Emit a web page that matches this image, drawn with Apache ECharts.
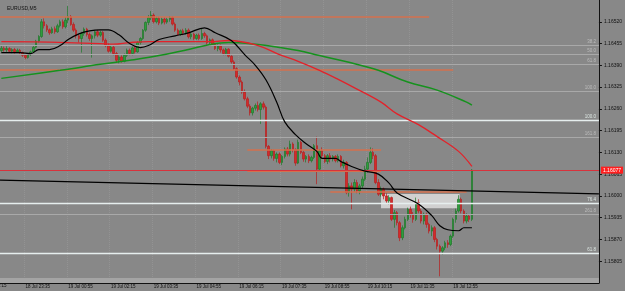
<!DOCTYPE html>
<html><head><meta charset="utf-8">
<script src="https://cdn.jsdelivr.net/npm/echarts@6/dist/echarts.min.js"></script>
<style>html,body{margin:0;padding:0;background:#888888;}#c{width:625px;height:291px;}</style>
</head><body><div id="c"></div>
<script>
const chartTitle = 'EURUSD,M5';
const barCount = 224;                 // bars incl. empty future area
const startDay = 18, startMinutes = 22 * 60 + 50;   // first bar 18 Jul 22:50, M5
const tickLabels = ['18 Jul 23:35','19 Jul 00:55','19 Jul 02:15','19 Jul 03:35','19 Jul 04:55','19 Jul 06:15','19 Jul 07:35','19 Jul 08:55','19 Jul 10:15','19 Jul 11:35','19 Jul 12:55'];
const yMin = 1.15740, yMax = 1.16585, yStep = 0.00065;

// [open, close, low, high]
const candles = [
[1.16434,1.16441,1.16428,1.16449],[1.16441,1.16436,1.16431,1.16446],[1.16436,1.16440,1.16430,1.16447],[1.16440,1.16432,1.16428,1.16444],
[1.16432,1.16437,1.16426,1.16441],[1.16437,1.16430,1.16425,1.16442],[1.16430,1.16435,1.16427,1.16440],[1.16435,1.16428,1.16422,1.16439],
[1.16428,1.16420,1.16415,1.16431],[1.16420,1.16413,1.16408,1.16424],[1.16413,1.16422,1.16410,1.16426],[1.16422,1.16430,1.16418,1.16434],
[1.16430,1.16444,1.16427,1.16448],[1.16444,1.16462,1.16440,1.16466],[1.16462,1.16476,1.16458,1.16480],[1.16476,1.16520,1.16472,1.16528],
[1.16520,1.16508,1.16500,1.16530],[1.16508,1.16496,1.16490,1.16513],[1.16496,1.16487,1.16481,1.16500],[1.16487,1.16499,1.16484,1.16505],
[1.16499,1.16490,1.16484,1.16506],[1.16490,1.16508,1.16487,1.16514],[1.16508,1.16520,1.16503,1.16526],[1.16520,1.16505,1.16499,1.16527],
[1.16505,1.16525,1.16500,1.16534],[1.16525,1.16535,1.16516,1.16567],[1.16535,1.16512,1.16508,1.16540],[1.16512,1.16495,1.16490,1.16518],
[1.16495,1.16478,1.16470,1.16500],[1.16478,1.16470,1.16458,1.16483],[1.16470,1.16485,1.16428,1.16490],[1.16485,1.16498,1.16478,1.16503],
[1.16498,1.16482,1.16476,1.16502],[1.16482,1.16470,1.16463,1.16488],[1.16470,1.16478,1.16413,1.16482],[1.16478,1.16490,1.16470,1.16495],
[1.16490,1.16480,1.16474,1.16496],[1.16480,1.16488,1.16475,1.16493],[1.16488,1.16465,1.16460,1.16492],[1.16465,1.16449,1.16444,1.16470],
[1.16449,1.16432,1.16428,1.16455],[1.16432,1.16444,1.16428,1.16450],[1.16444,1.16425,1.16420,1.16448],[1.16425,1.16405,1.16399,1.16430],
[1.16405,1.16415,1.16396,1.16420],[1.16415,1.16402,1.16398,1.16420],[1.16402,1.16420,1.16399,1.16425],[1.16420,1.16435,1.16415,1.16440],
[1.16435,1.16425,1.16420,1.16440],[1.16425,1.16442,1.16420,1.16446],[1.16442,1.16430,1.16425,1.16447],[1.16430,1.16458,1.16428,1.16462],
[1.16458,1.16470,1.16452,1.16474],[1.16470,1.16495,1.16466,1.16498],[1.16495,1.16518,1.16490,1.16521],[1.16518,1.16532,1.16510,1.16540],
[1.16532,1.16540,1.16525,1.16552],[1.16540,1.16520,1.16515,1.16545],[1.16520,1.16530,1.16515,1.16535],[1.16530,1.16516,1.16510,1.16535],
[1.16516,1.16528,1.16512,1.16533],[1.16528,1.16519,1.16512,1.16533],[1.16519,1.16527,1.16514,1.16532],[1.16527,1.16532,1.16520,1.16537],
[1.16532,1.16513,1.16509,1.16536],[1.16513,1.16495,1.16490,1.16518],[1.16495,1.16482,1.16478,1.16500],[1.16482,1.16493,1.16478,1.16497],
[1.16493,1.16487,1.16480,1.16499],[1.16487,1.16495,1.16482,1.16501],[1.16495,1.16475,1.16470,1.16500],[1.16475,1.16483,1.16468,1.16488],
[1.16483,1.16470,1.16465,1.16487],[1.16470,1.16480,1.16466,1.16484],[1.16480,1.16470,1.16465,1.16485],[1.16470,1.16485,1.16466,1.16500],
[1.16485,1.16478,1.16472,1.16490],[1.16478,1.16458,1.16452,1.16482],[1.16458,1.16466,1.16450,1.16470],[1.16466,1.16452,1.16448,1.16470],
[1.16452,1.16440,1.16436,1.16458],[1.16440,1.16448,1.16432,1.16452],[1.16448,1.16436,1.16428,1.16452],[1.16436,1.16425,1.16420,1.16440],
[1.16425,1.16438,1.16420,1.16442],[1.16438,1.16417,1.16413,1.16441],[1.16417,1.16400,1.16395,1.16420],[1.16400,1.16380,1.16376,1.16405],
[1.16380,1.16355,1.16350,1.16384],[1.16355,1.16340,1.16330,1.16360],[1.16340,1.16310,1.16305,1.16345],[1.16310,1.16290,1.16285,1.16318],
[1.16290,1.16268,1.16262,1.16296],[1.16268,1.16248,1.16240,1.16274],[1.16248,1.16262,1.16240,1.16266],[1.16262,1.16270,1.16255,1.16276],
[1.16270,1.16258,1.16252,1.16282],[1.16258,1.16275,1.16215,1.16280],[1.16275,1.16265,1.16258,1.16282],[1.16265,1.16148,1.16142,1.16270],
[1.16148,1.16120,1.16110,1.16152],[1.16120,1.16135,1.16112,1.16140],[1.16135,1.16112,1.16105,1.16138],[1.16112,1.16125,1.16100,1.16130],
[1.16125,1.16100,1.16095,1.16130],[1.16100,1.16118,1.16092,1.16122],[1.16118,1.16140,1.16112,1.16145],[1.16140,1.16125,1.16118,1.16146],
[1.16125,1.16155,1.16118,1.16165],[1.16155,1.16138,1.16130,1.16160],[1.16138,1.16098,1.16090,1.16142],[1.16098,1.16160,1.16095,1.16168],
[1.16160,1.16130,1.16125,1.16165],[1.16130,1.16110,1.16102,1.16135],[1.16110,1.16118,1.16100,1.16122],[1.16118,1.16105,1.16098,1.16124],
[1.16105,1.16115,1.16100,1.16120],[1.16115,1.16150,1.16110,1.16155],[1.16150,1.16080,1.16035,1.16177],[1.16080,1.16135,1.16075,1.16140],
[1.16135,1.16120,1.16112,1.16145],[1.16120,1.16103,1.16098,1.16125],[1.16103,1.16120,1.16095,1.16125],[1.16120,1.16110,1.16100,1.16128],
[1.16110,1.16118,1.16103,1.16122],[1.16118,1.16105,1.16100,1.16122],[1.16105,1.16118,1.16100,1.16124],[1.16118,1.16090,1.16085,1.16122],
[1.16090,1.16100,1.16082,1.16108],[1.16100,1.16010,1.16005,1.16104],[1.16010,1.16030,1.15998,1.16038],[1.16030,1.16020,1.15960,1.16040],
[1.16020,1.16040,1.16012,1.16050],[1.16040,1.16015,1.16008,1.16048],[1.16015,1.16030,1.16005,1.16036],[1.16030,1.16050,1.16022,1.16058],
[1.16050,1.16080,1.16045,1.16090],[1.16080,1.16100,1.16070,1.16115],[1.16100,1.16130,1.16095,1.16145],[1.16130,1.16120,1.16110,1.16142],
[1.16120,1.16040,1.16035,1.16125],[1.16040,1.16005,1.16000,1.16050],[1.16005,1.16020,1.15998,1.16028],[1.16020,1.16000,1.15990,1.16025],
[1.16000,1.15985,1.15978,1.16008],[1.15985,1.15995,1.15975,1.16002],[1.15995,1.15930,1.15925,1.15998],[1.15930,1.15950,1.15905,1.15958],
[1.15950,1.15920,1.15912,1.15955],[1.15920,1.15875,1.15865,1.15925],[1.15875,1.15905,1.15868,1.15912],[1.15905,1.15930,1.15900,1.15938],
[1.15930,1.15960,1.15925,1.15965],[1.15960,1.15945,1.15935,1.15968],[1.15945,1.15930,1.15920,1.15952],[1.15930,1.15980,1.15925,1.15995],
[1.15980,1.15955,1.15948,1.15990],[1.15955,1.15925,1.15918,1.15962],[1.15925,1.15945,1.15915,1.15950],[1.15945,1.15915,1.15905,1.15950],
[1.15915,1.15895,1.15888,1.15920],[1.15895,1.15905,1.15880,1.15912],[1.15905,1.15870,1.15862,1.15910],[1.15870,1.15850,1.15840,1.15875],
[1.15850,1.15835,1.15760,1.15855],[1.15835,1.15845,1.15825,1.15850],[1.15845,1.15860,1.15838,1.15866],[1.15860,1.15855,1.15845,1.15868],
[1.15855,1.15880,1.15850,1.15885],[1.15880,1.15930,1.15875,1.15935],[1.15930,1.15955,1.15920,1.15962],[1.15955,1.15990,1.15950,1.16002],
[1.15990,1.15955,1.15948,1.15995],[1.15955,1.15925,1.15918,1.15960],[1.15925,1.15940,1.15918,1.15948],[1.15940,1.15930,1.15922,1.15946],
[1.15930,1.16077,1.15925,1.16080]
];

// moving averages: [bar index, value]
const maFast = [[0,1.16428],[7,1.16428],[11,1.16425],[14,1.16437],[18,1.16437],[22,1.16449],[25,1.16467],[29,1.16484],[33,1.16493],[37,1.16496],[40,1.16496],[44,1.16481],[48,1.16455],[52,1.16443],[55,1.16449],[59,1.16467],[65,1.16478],[70,1.16487],[76,1.16502],[80,1.16487],[86,1.16464],[91,1.16422],[95,1.16390],[99,1.16346],[103,1.16280],[106,1.16221],[110,1.16183],[114,1.16156],[118,1.16133],[120,1.16112],[125,1.16112],[127,1.16103],[131,1.16088],[136,1.16074],[141,1.16065],[145,1.16038],[148,1.16009],[156,1.15976],[161,1.15941],[164,1.15911],[167,1.15899],[171,1.15896],[173,1.15905],[176,1.15905]];
const maMid = [[0,1.16461],[18,1.16459],[37,1.16455],[42,1.16453],[48,1.16458],[55,1.16461],[78,1.16461],[85,1.16464],[96,1.16449],[104,1.16422],[111,1.16402],[119,1.16375],[126,1.16348],[133,1.16319],[142,1.16280],[148,1.16245],[156,1.16213],[163,1.16177],[171,1.16133],[176,1.16088]];
const maSlow = [[0,1.16351],[22,1.16375],[37,1.16393],[48,1.16405],[59,1.16419],[70,1.16437],[78,1.16452],[85,1.16458],[96,1.16452],[104,1.16443],[111,1.16434],[119,1.16419],[130,1.16399],[141,1.16375],[152,1.16340],[163,1.16316],[174,1.16280],[176,1.16271]];

const bidPrice = 1.16077;
const fibMajorValues = [1.16227, 1.15979, 1.15828];
const fibMajorTexts = ['100.0', '76.4', '61.8'];
const fibMinorValues = [1.16449, 1.16422, 1.16393, 1.16313, 1.16174, 1.15944];
const fibMinorTexts = ['38.2', '50.0', '61.8', '100.0', '161.8', '261.8'];
// orange level segments: [price, fromBar, toBar]
const levelSegments = [[1.16535,-0.5,160],[1.16378,-0.5,169],[1.16139,92,142],[1.16074,92,142],[1.16012,123,174]];
const trendLine = [[-0.5,1.16047],[223.5,1.16006]];
const zoneBox = [[142,1.16006],[171.4,1.15963]];
const bottomBand = [[-0.5,1.15755],[223.5,1.15740]];
const xLeft = -0.5, xRight = 223.5;

const cats = [];
for (let i = 0; i < barCount; i++) {
  let m = startMinutes + 5 * i;
  const day = startDay + Math.floor(m / 1440);
  m = m % 1440;
  cats.push(day + ' Jul ' + String(Math.floor(m / 60)).padStart(2, '0') + ':' + String(m % 60).padStart(2, '0'));
}
const showTick = (idx, val) => tickLabels.includes(val);
const FONT = 'Liberation Sans';

const markLines = [];
function hline(v, style, label) {
  markLines.push([{coord: [xLeft, v], lineStyle: Object.assign({type: 'solid'}, style), label: label || {show: false}}, {coord: [xRight, v]}]);
}
fibMinorValues.forEach((v, k) => hline(v, {color: '#a9a9a9', width: 1.2},
  {show: true, formatter: fibMinorTexts[k], position: 'insideEndTop', distance: [3, 1], fontSize: 4.5, color: '#bcbcbc', fontFamily: FONT}));
fibMajorValues.forEach((v, k) => hline(v, {color: '#e6eeee', width: 1.3},
  {show: true, formatter: fibMajorTexts[k], position: 'insideEndTop', distance: [3, 1], fontSize: 4.5, color: '#dce6e2', fontFamily: FONT}));
levelSegments.forEach((s, k) => markLines.push([{coord: [s[1], s[0]], lineStyle: {type: 'solid', color: '#d4704e', width: k === 3 ? 2 : 1.5}, label: {show: false}}, {coord: [s[2], s[0]]}]));
markLines.push([{coord: trendLine[0], lineStyle: {type: 'solid', color: '#000', width: 1.2}, label: {show: false}}, {coord: trendLine[1]}]);
hline(bidPrice, {color: '#d8323c', width: 1.2},
  {show: true, formatter: bidPrice.toFixed(5), position: 'end', distance: 2, fontSize: 5, color: '#fff', backgroundColor: '#ff1e1e', padding: [1, 2], fontFamily: FONT});

const chart = echarts.init(document.getElementById('c'), null, {renderer: 'canvas'});
chart.setOption({
  backgroundColor: '#888888',
  animation: false,
  title: {text: chartTitle, left: 2, top: 1, textStyle: {fontSize: 5, fontWeight: 'normal', color: '#111', fontFamily: FONT}},
  grid: {left: 0, right: 24, top: -3, bottom: 8},
  xAxis: [{
    type: 'category', data: cats, boundaryGap: true,
    axisLine: {onZero: false, lineStyle: {color: '#111', width: 1}},
    axisTick: {show: true, inside: true, length: 4, interval: showTick, alignWithLabel: true, lineStyle: {color: '#555'}},
    axisLabel: {interval: showTick, fontSize: 4.5, align: 'left', margin: 1, color: '#111', fontFamily: FONT},
    splitLine: {show: true, interval: showTick, lineStyle: {color: '#939393', type: 'dotted', width: 1}}
  }, {
    type: 'value', min: xLeft, max: xRight, show: false, axisLine: {onZero: false}
  }],
  yAxis: {
    type: 'value', position: 'right', min: yMin, max: yMax, interval: yStep, scale: true,
    axisLine: {show: true, onZero: false, lineStyle: {color: '#111', width: 1}},
    axisTick: {show: true, length: 3, lineStyle: {color: '#111'}},
    axisLabel: {formatter: v => v.toFixed(5), fontSize: 5, margin: 5, color: '#111', fontFamily: FONT, showMinLabel: false, showMaxLabel: false},
    splitLine: {show: false}
  },
  series: [
    {type: 'line', xAxisIndex: 1, data: [], silent: true, z: 1,
     markArea: {silent: true, data: [
       [{coord: zoneBox[0], itemStyle: {color: 'rgba(214,214,214,0.92)'}}, {coord: zoneBox[1]}],
       [{coord: bottomBand[0], itemStyle: {color: '#a4a4a4'}}, {coord: bottomBand[1]}]
     ]}},
    {type: 'candlestick', data: candles, barWidth: 2, z: 3,
     itemStyle: {color: '#2f9e3c', color0: '#d42a2a', borderColor: '#1e7a2a', borderColor0: '#b81e1e', borderWidth: 0.7}},
    {type: 'line', xAxisIndex: 1, data: [], silent: true, z: 4,
     markLine: {silent: true, symbol: 'none', animation: false, lineStyle: {type: 'solid'}, data: markLines}},
    {type: 'line', data: maSlow, showSymbol: false, smooth: 0.4, z: 5, lineStyle: {color: '#16921e', width: 1.5}},
    {type: 'line', data: maMid, showSymbol: false, smooth: 0.4, z: 5, lineStyle: {color: '#e3222a', width: 1.3}},
    {type: 'line', data: maFast, showSymbol: false, smooth: 0.4, z: 6, lineStyle: {color: '#000', width: 1.2}}
  ],
  graphic: [{type: 'text', left: -18, top: 283, style: {text: '18 Jul 22:15', fontSize: 4.5, fill: '#111', fontFamily: FONT}}]
});
</script></body></html>
